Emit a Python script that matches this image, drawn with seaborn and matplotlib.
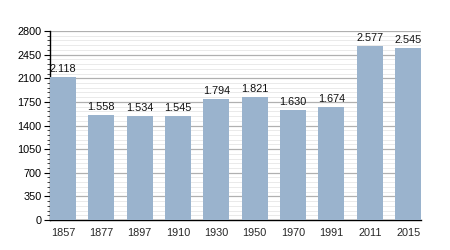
import matplotlib
matplotlib.use("Agg")
import matplotlib.pyplot as plt
import seaborn as sns
import pandas as pd
from matplotlib.ticker import MultipleLocator

years = ["1857", "1877", "1897", "1910", "1930", "1950", "1970", "1991", "2011", "2015"]
population = [2118, 1558, 1534, 1545, 1794, 1821, 1630, 1674, 2577, 2545]
value_labels = ["2.118", "1.558", "1.534", "1.545", "1.794", "1.821", "1.630", "1.674", "2.577", "2.545"]

df = pd.DataFrame({"year": years, "pop": population})

sns.set_style("white")
plt.rcParams["font.family"] = ["Liberation Sans", "DejaVu Sans"]

fig = plt.figure(figsize=(4.5, 2.5), dpi=100)
ax = fig.add_axes([0.111, 0.12, 0.825, 0.756])

sns.barplot(data=df, x="year", y="pop", color="#9ab3cd", saturation=1,
            width=0.68, ax=ax, zorder=3, linewidth=0, edgecolor="none")

ax.set_ylim(0, 2800)
ax.set_xlim(-0.34, len(years) - 1 + 0.34)
ax.yaxis.set_major_locator(MultipleLocator(350))
ax.yaxis.set_minor_locator(MultipleLocator(70))
ax.grid(which="major", axis="y", color="#b0b0b0", linewidth=0.9, zorder=0)
ax.grid(which="minor", axis="y", color="#e6e6e6", linewidth=0.6, zorder=0)
ax.set_axisbelow(True)

for i, (v, lab) in enumerate(zip(population, value_labels)):
    ax.text(i, v + 45, lab, ha="center", va="bottom", fontsize=7.8, color="#111111")

ax.set_xlabel("")
ax.set_ylabel("")
for s in ["top", "right"]:
    ax.spines[s].set_visible(False)
ax.spines["left"].set_color("black")
ax.spines["bottom"].set_color("black")
ax.spines["left"].set_linewidth(1.0)
ax.spines["bottom"].set_linewidth(1.0)
ax.tick_params(axis="y", which="major", left=True, length=4, width=0.8, labelsize=7.8, pad=2, colors="black")
ax.tick_params(axis="y", which="minor", left=True, length=2, width=0.6)
ax.tick_params(axis="x", which="both", bottom=False, labelsize=7.8, pad=2)

fig.savefig("out.png", dpi=100)
